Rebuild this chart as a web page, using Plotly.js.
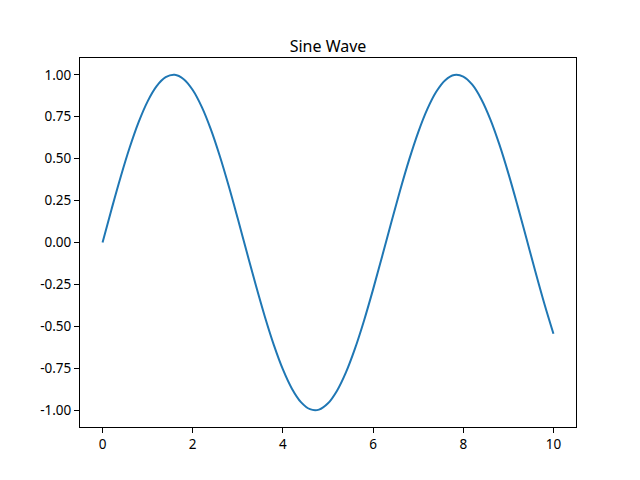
<!DOCTYPE html>
<html>
<head>
<meta charset="utf-8">
<script src="https://cdn.plot.ly/plotly-3.0.1.min.js"></script>
<style>html,body{margin:0;padding:0;background:#fff;}#chart{width:640px;height:480px;}</style>
</head>
<body>
<div id="chart"></div>
<script>
var xValues = [0,0.2,0.4,0.6,0.8,1.0,1.2,1.4,1.6,1.8,2.0,2.2,2.4,2.6,2.8,3.0,3.2,3.4,3.6,3.8,4.0,4.2,4.4,4.6,4.8,5.0,5.2,5.4,5.6,5.8,6.0,6.2,6.4,6.6,6.8,7.0,7.2,7.4,7.6,7.8,8.0,8.2,8.4,8.6,8.8,9.0,9.2,9.4,9.6,9.8,10.0];
var yValues = [0,0.1987,0.3894,0.5646,0.7174,0.8415,0.9320,0.9854,0.9996,0.9738,0.9093,0.8085,0.6755,0.5155,0.3350,0.1411,-0.0584,-0.2555,-0.4425,-0.6119,-0.7568,-0.8716,-0.9516,-0.9937,-0.9962,-0.9589,-0.8835,-0.7728,-0.6313,-0.4646,-0.2794,-0.0831,0.1165,0.3115,0.4941,0.6570,0.7937,0.8987,0.9679,0.9985,0.9894,0.9407,0.8546,0.7344,0.5849,0.4121,0.2229,0.0248,-0.1743,-0.3665,-0.5440];
var xTickVals = [0,2,4,6,8,10];
var xTickText = ["0","2","4","6","8","10"];
var yTickVals = [1,0.75,0.5,0.25,0,-0.25,-0.5,-0.75,-1];
var yTickText = ["1.00","0.75","0.50","0.25","0.00","-0.25","-0.50","-0.75","-1.00"];
var chartTitle = "Sine Wave";

var font = "Noto Sans, Open Sans, sans-serif";
var axisCommon = {
  showgrid: false, zeroline: false, showline: true, mirror: true,
  linecolor: "#000", linewidth: 1, ticks: "outside", ticklen: 5, tickwidth: 1,
  tickcolor: "#000", tickfont: {family: font, size: 13.5, color: "#000"}
};
var layout = {
  width: 640, height: 480,
  margin: {l: 80, r: 64, t: 58, b: 53, pad: 0},
  paper_bgcolor: "#fff", plot_bgcolor: "#fff",
  showlegend: false,
  title: {text: chartTitle, font: {family: font, size: 16, color: "#000"}, x: 0.5, xanchor: "center", xref: "paper", y: 1, yref: "paper", yanchor: "bottom", pad: {b: 6}},
  xaxis: Object.assign({}, axisCommon, {range: [-0.5, 10.5], tickvals: xTickVals, ticktext: xTickText}),
  yaxis: Object.assign({}, axisCommon, {range: [-1.1, 1.1], tickvals: yTickVals, ticktext: yTickText})
};
Plotly.newPlot("chart", [{
  x: xValues, y: yValues, type: "scatter", mode: "lines",
  line: {color: "#1f77b4", width: 2, shape: "spline", smoothing: 1}
}], layout, {staticPlot: true});
</script>
</body>
</html>
